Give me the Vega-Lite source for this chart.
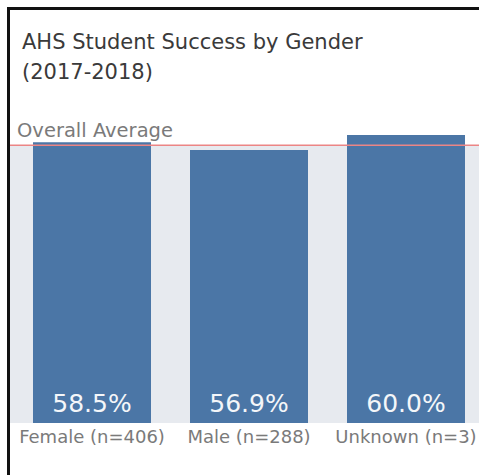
{
  "$schema": "https://vega.github.io/schema/vega-lite/v6.json",
  "width": 470.5,
  "height": 466.5,
  "autosize": "none",
  "padding": {"left": 8.5, "top": 8.5, "right": 0, "bottom": 0},
  "background": "white",
  "config": {
    "view": {"stroke": null},
    "font": "DejaVu Sans"
  },
  "title": {
    "text": ["AHS Student Success by Gender", "(2017-2018)"],
    "anchor": "start",
    "frame": "group",
    "orient": "top",
    "offset": 0,
    "baseline": "top",
    "dx": 13.5,
    "dy": 77,
    "fontSize": 21,
    "fontWeight": "normal",
    "color": "#3a3a3a",
    "lineHeight": 30,
    "font": "DejaVu Sans"
  },
  "datasets": {
    "bars": [
      {"gender": "Female (n=406)", "rate": 58.5, "label": "58.5%"},
      {"gender": "Male (n=288)", "rate": 56.9, "label": "56.9%"},
      {"gender": "Unknown (n=3)", "rate": 60.0, "label": "60.0%"}
    ],
    "avg": [
      {"avg": 57.85, "label": "Overall Average"}
    ],
    "frame": [
      {"top": 86.354, "left": 0}
    ]
  },
  "resolve": {"scale": {"x": "independent"}},
  "layer": [
    {
      "layer": [
        {
          "data": {"name": "avg"},
          "mark": {"type": "rect", "color": "#e7eaef"},
          "encoding": {
            "y": {"field": "avg", "type": "quantitative", "scale": {"domain": [-10.833, 86.354], "nice": false, "zero": false}, "axis": null},
            "y2": {"datum": 0}
          }
        },
        {
          "data": {"name": "bars"},
          "mark": {"type": "bar", "color": "#4b76a6"},
          "encoding": {
            "x": {
              "field": "gender",
              "type": "nominal",
              "sort": null,
              "scale": {"paddingInner": 0.2484, "paddingOuter": 0.1226, "align": 0.6364},
              "axis": {
                "orient": "bottom",
                "offset": -52,
                "title": null,
                "domain": false,
                "ticks": false,
                "labelAngle": 0,
                "labelFontSize": 18,
                "labelColor": "#7a7a7a",
                "labelPadding": 5,
                "labelOverlap": false,
                "labelBound": false,
                "labelFont": "DejaVu Sans"
              }
            },
            "y": {"field": "rate", "type": "quantitative"},
            "y2": {"datum": 0}
          }
        },
        {
          "data": {"name": "bars"},
          "mark": {"type": "text", "color": "#f4f6f9", "fontSize": 25, "baseline": "alphabetic", "dy": -11, "font": "DejaVu Sans"},
          "encoding": {
            "x": {"field": "gender", "type": "nominal", "sort": null},
            "y": {"datum": 0},
            "text": {"field": "label"}
          }
        },
        {
          "data": {"name": "avg"},
          "mark": {"type": "rule", "color": "#ec8585", "strokeWidth": 1.5},
          "encoding": {
            "y": {"field": "avg", "type": "quantitative"}
          }
        },
        {
          "data": {"name": "avg"},
          "mark": {"type": "text", "color": "#7a7a7a", "fontSize": 19.5, "align": "left", "baseline": "alphabetic", "dx": -16, "dy": -8, "font": "DejaVu Sans"},
          "encoding": {
            "x": {"datum": "Female (n=406)", "type": "nominal", "bandPosition": 0},
            "y": {"field": "avg", "type": "quantitative"},
            "text": {"field": "label"}
          }
        },
        {
          "data": {"name": "frame"},
          "mark": {"type": "rule", "color": "#111111", "strokeWidth": 3, "strokeCap": "square"},
          "encoding": {
            "y": {"field": "top", "type": "quantitative"}
          }
        }
      ]
    },
    {
      "data": {"name": "frame"},
      "mark": {"type": "rule", "color": "#111111", "strokeWidth": 3, "strokeCap": "square"},
      "encoding": {
        "x": {"field": "left", "type": "quantitative", "scale": {"domain": [0, 1], "nice": false, "zero": false}, "axis": null}
      }
    }
  ]
}
